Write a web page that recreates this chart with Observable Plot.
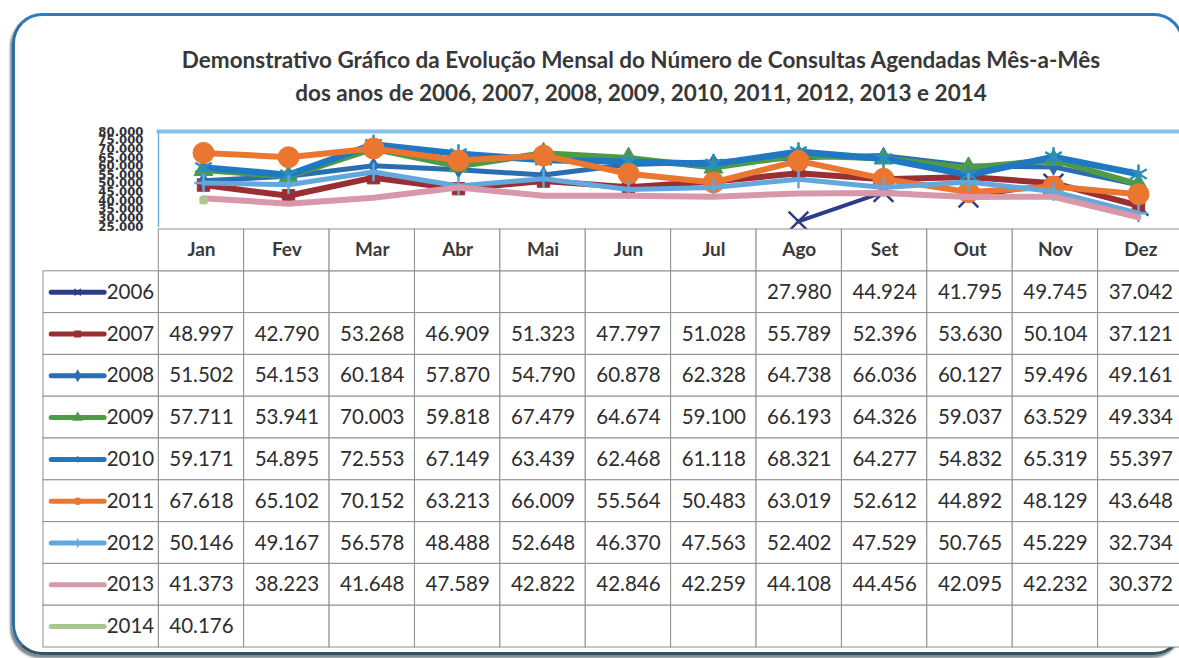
<!DOCTYPE html>
<html>
<head>
<meta charset="utf-8">
<script src="https://cdn.jsdelivr.net/npm/d3@7"></script>
<script src="https://cdn.jsdelivr.net/npm/@observablehq/plot@0.6"></script>
<style>
  html, body { margin: 0; padding: 0; background: #ffffff; overflow: hidden; }
  #wrap { position: relative; width: 1179px; height: 658px; overflow: hidden; background: #fff; }
  #frame { position: absolute; left: 12px; top: 13px; width: 1166px; height: 636px;
           border: 3px solid #2b7cc3; border-bottom-color: #2f5560; border-left-color: #2f6f9a;
           border-radius: 30px; box-shadow: -2px 3px 2px rgba(40,60,70,0.6); }
  #title { position: absolute; left: 0; width: 1282px; top: 43px; text-align: center;
           font-family: Lato, "Open Sans", sans-serif; font-weight: 700; font-size: 22.5px;
           line-height: 33px; color: #383838; }
  .layer { position: absolute; left: 0; top: 0; }
</style>
</head>
<body>
<div id="wrap">
  <div id="frame"></div>
  <div id="title">Demonstrativo Gráfico da Evolução Mensal do Número de Consultas Agendadas Mês-a-Mês<br>dos anos de 2006, 2007, 2008, 2009, 2010, 2011, 2012, 2013 e 2014</div>
  <div id="chart" class="layer"></div>
  <div id="table" class="layer"></div>
</div>
<script>
// ---- data ----
const months = ["Jan","Fev","Mar","Abr","Mai","Jun","Jul","Ago","Set","Out","Nov","Dez"];
const years = ["2006","2007","2008","2009","2010","2011","2012","2013","2014"];
const v2006 = [null,null,null,null,null,null,null,27980,44924,41795,49745,37042];
const v2007 = [48997,42790,53268,46909,51323,47797,51028,55789,52396,53630,50104,37121];
const v2008 = [51502,54153,60184,57870,54790,60878,62328,64738,66036,60127,59496,49161];
const v2009 = [57711,53941,70003,59818,67479,64674,59100,66193,64326,59037,63529,49334];
const v2010 = [59171,54895,72553,67149,63439,62468,61118,68321,64277,54832,65319,55397];
const v2011 = [67618,65102,70152,63213,66009,55564,50483,63019,52612,44892,48129,43648];
const v2012 = [50146,49167,56578,48488,52648,46370,47563,52402,47529,50765,45229,32734];
const v2013 = [41373,38223,41648,47589,42822,42846,42259,44108,44456,42095,42232,30372];
const v2014 = [40176,null,null,null,null,null,null,null,null,null,null,null];
const yTicks = [80000,75000,70000,65000,60000,55000,50000,45000,40000,35000,30000,25000];

// ---- styling per series ----
const seriesValues = [v2006,v2007,v2008,v2009,v2010,v2011,v2012,v2013,v2014];
const colors = ["#2e3b86","#9a2f33","#2a6db0","#4e9a45","#1f78c1","#ea7630","#62a8dd","#d898aa","#a9c78f"];
const markerColors = ["#2e3b86","#9a2f33","#2a6db0","#4e9a45","#2a8fbf","#ea7630","#62a8dd","#d898aa","#a9c78f"];
const symbols = ["times","square","diamond","triangle","asterisk","circle","plus",null,"square"];
const markerR = [9,7,5,7,9,10.5,6,0,4];
const lineW = [4,6,5,6,6.5,6,5,6,5];

const loc = d3.formatLocale({decimal: ",", thousands: ".", grouping: [3], currency: ["", ""]});
const fmt = loc.format(",d");
const FONT = "Lato, 'Open Sans', sans-serif";

const series = years.map((y, k) => ({
  year: y, color: colors[k], mcolor: markerColors[k], symbol: symbols[k], r: markerR[k], w: lineW[k],
  points: seriesValues[k].map((v, i) => ({month: months[i], i, value: v})).filter(d => d.value != null)
}));

// ---- line chart ----
const X0 = 158, X1 = 1183;
const isStrokeSym = s => s === "times" || s === "plus" || s === "asterisk";
const chartMarks = [
  Plot.frame({anchor: "top", stroke: "#86c3ea", strokeWidth: 4}),
  Plot.frame({anchor: "left", stroke: "#6fb3e2", strokeWidth: 1.5}),
  Plot.axisY({ticks: yTicks, tickFormat: fmt, tickSize: 0, tickPadding: 15,
    fontSize: 13, fontWeight: "bold", fill: "#333", letterSpacing: 2,
    fontFamily: "'DejaVu Sans Condensed', 'Liberation Sans Narrow', sans-serif", label: null}),
];
for (const s of series) {
  chartMarks.push(Plot.line(s.points, {x: "month", y: "value", stroke: s.color, strokeWidth: s.w, strokeLinejoin: "round"}));
  if (s.symbol) {
    chartMarks.push(Plot.dot(s.points, {x: "month", y: "value", symbol: () => s.symbol, r: s.r,
      fill: isStrokeSym(s.symbol) ? "none" : s.mcolor,
      stroke: s.mcolor, strokeWidth: isStrokeSym(s.symbol) ? 2.5 : 1}));
  }
}
const chart = Plot.plot({
  width: 1179, height: 232,
  marginTop: 131, marginBottom: 6, marginLeft: X0, marginRight: 0,
  style: {background: "transparent", overflow: "visible"},
  x: {type: "point", domain: months, range: [X0, X1], padding: 0.5, axis: null},
  y: {domain: [25000, 80000], range: [226, 131], axis: null},
  symbol: {type: "identity"},
  marks: chartMarks
});
document.getElementById("chart").appendChild(chart);

// ---- data table (legend + values) ----
const legendSpan = 1.35;   // legend column width in month-columns
const cells = [];
years.forEach((y, r) => months.forEach((m, c) => {
  const v = seriesValues[r][c];
  cells.push({c, r, text: v == null ? "" : fmt(v)});
}));
const headerCells = months.map((m, c) => ({c, text: m}));
const legendRows = series.map((s, r) => ({...s, r}));

const tableMarks = [
  Plot.rect(cells, {x1: "c", x2: d => d.c + 1, y1: "r", y2: d => d.r + 1, fill: "white", stroke: "#8e8e8e", strokeWidth: 1}),
  Plot.rect(headerCells, {x1: "c", x2: d => d.c + 1, y1: -1, y2: 0, fill: "white", stroke: "#8e8e8e", strokeWidth: 1}),
  Plot.rect(legendRows, {x1: -legendSpan, x2: 0, y1: "r", y2: d => d.r + 1, fill: "white", stroke: "#8e8e8e", strokeWidth: 1}),
  Plot.text(cells, {x: d => d.c + 0.5, y: d => d.r + 0.5, text: "text", fontSize: 20.5, fontFamily: FONT, fill: "#2e2e2e"}),
  Plot.text(headerCells, {x: d => d.c + 0.5, y: -0.5, text: "text", fontSize: 19, fontWeight: "bold", fontFamily: FONT, fill: "#3a3a3a"}),
  Plot.link(legendRows, {x1: -legendSpan + 0.09, x2: -legendSpan + 0.71, y1: d => d.r + 0.5, y2: d => d.r + 0.5,
    stroke: "color", strokeWidth: 5, strokeLinecap: "round"}),
  Plot.dot(legendRows.filter(d => d.symbol && d.year !== "2014"), {x: -legendSpan + 0.40, y: d => d.r + 0.5,
    symbol: "symbol", r: d => Math.max(3, d.r * 0.5),
    fill: d => isStrokeSym(d.symbol) ? "none" : d.color, stroke: "color", strokeWidth: 1.5}),
  Plot.text(legendRows, {x: -legendSpan + 0.74, y: d => d.r + 0.5, text: "year", textAnchor: "start",
    fontSize: 20.5, fontFamily: FONT, fill: "#2e2e2e"})
];
const table = Plot.plot({
  width: 1179, height: 658,
  margin: 0,
  style: {background: "transparent", overflow: "visible"},
  x: {type: "linear", domain: [-legendSpan, 12], range: [43, X1], axis: null},
  y: {type: "linear", domain: [-1, 9], range: [229, 647], axis: null},
  symbol: {type: "identity"},
  stroke: {type: "identity"},
  fill: {type: "identity"},
  marks: tableMarks
});
document.getElementById("table").appendChild(table);
</script>
</body>
</html>
